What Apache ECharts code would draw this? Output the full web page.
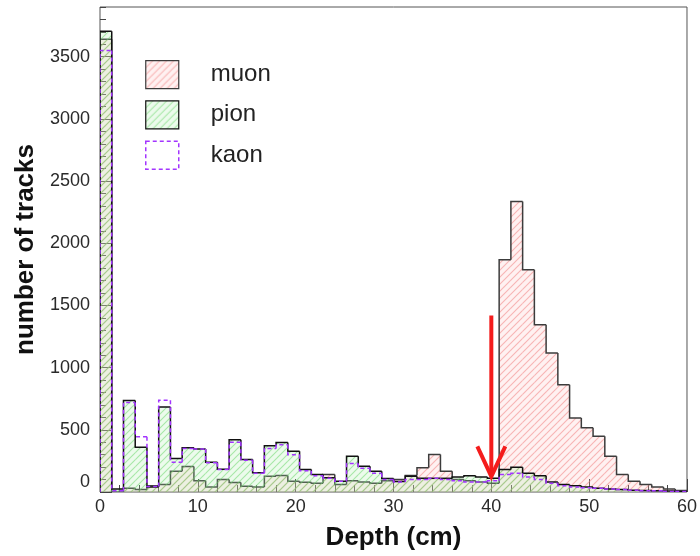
<!DOCTYPE html>
<html>
<head>
<meta charset="utf-8">
<script src="https://cdn.jsdelivr.net/npm/echarts@6/dist/echarts.min.js"></script>
<style>
  html, body { margin: 0; padding: 0; background: #ffffff; }
  #chart { width: 700px; height: 556px; }
</style>
</head>
<body>
<div id="chart"></div>
<script>
// Track depth histograms: 50 bins of 1.2 cm from 0 to 60 cm
const binWidth = 1.2;

const muon = [3640, 0, 30, 20, 50, 60, 167, 205, 90, 40,
              100, 76, 47, 40, 127, 132, 87, 79, 70, 140,
              60, 90, 80, 70, 90, 100, 133, 194, 301, 167,
              100, 90, 80, 70, 1867, 2336, 1787, 1345, 1118, 863,
              596, 516, 448, 288, 141, 87, 60, 40, 25, 12];

const pion = [3705, 25, 735, 360, 40, 684, 269, 355, 345, 240,
              183, 421, 261, 155, 372, 398, 328, 181, 141, 115,
              87, 288, 207, 167, 108, 84, 127, 110, 110, 110,
              120, 130, 120, 110, 180, 200, 150, 130, 80, 60,
              50, 40, 30, 25, 20, 15, 12, 10, 8, 5];

const kaon = [3550, 10, 720, 445, 45, 737, 240, 350, 345, 235,
              180, 400, 255, 150, 350, 380, 300, 170, 130, 110,
              87, 230, 190, 150, 100, 80, 100, 100, 110, 100,
              90, 80, 80, 90, 140, 150, 120, 100, 70, 50,
              40, 35, 30, 25, 20, 15, 10, 10, 5, 5];

// Depth cut marker (cm) and its vertical extent (tracks)
const cutDepth = 40;
const cutArrowTop = 1420;
const cutArrowTip = 125;

const FONT = 'Liberation Sans, Arial, Helvetica, sans-serif';

// Diagonal "/" hatch pattern over a faint tint
function hatch(tint, color, lineWidth, size) {
  const c = document.createElement('canvas');
  c.width = size; c.height = size;
  const g = c.getContext('2d');
  g.fillStyle = tint;
  g.fillRect(0, 0, size, size);
  g.strokeStyle = color;
  g.lineWidth = lineWidth;
  g.beginPath();
  g.moveTo(-1, size + 1); g.lineTo(size + 1, -1);
  g.moveTo(-2, 2); g.lineTo(2, -2);
  g.moveTo(size - 2, size + 2); g.lineTo(size + 2, size - 2);
  g.stroke();
  return { image: c, repeat: 'repeat' };
}

const muonFill = hatch('rgba(255,190,190,0.22)', 'rgba(240,130,130,0.55)', 1.1, 7);
const pionFill = hatch('rgba(170,235,170,0.22)', 'rgba(110,215,110,0.55)', 1.1, 7);

const muonLine = '#3c3c3c';
const pionLine = '#111111';
const kaonLine = '#a335ff';

// Step histogram: each bin is a filled column plus its outline segment
function histSeries(name, values, fill, stroke, dash, z) {
  const data = values.map((v, i) => [i * binWidth, (i + 1) * binWidth, v, i > 0 ? values[i - 1] : 0]);
  return {
    name: name,
    type: 'custom',
    z: z,
    clip: true,
    data: data,
    encode: { x: [0, 1], y: 2 },
    itemStyle: { color: fill || '#ffffff', borderColor: stroke },
    renderItem: function (params, api) {
      const x0 = api.value(0), x1 = api.value(1), v = api.value(2), prev = api.value(3);
      const pBase = api.coord([x0, 0]);
      const pPrev = api.coord([x0, prev]);
      const pTopL = api.coord([x0, v]);
      const pTopR = api.coord([x1, v]);
      const pEnd = api.coord([x1, 0]);
      const children = [];
      if (fill && v > 0) {
        children.push({
          type: 'rect',
          shape: { x: pTopL[0], y: pTopL[1], width: pTopR[0] - pTopL[0], height: pBase[1] - pTopL[1] },
          style: { fill: fill },
          silent: true
        });
      }
      const pts = [pPrev, pTopL, pTopR];
      if (params.dataIndex === values.length - 1) pts.push(pEnd);
      children.push({
        type: 'polyline',
        shape: { points: pts },
        style: { stroke: stroke, lineWidth: 1.5, lineDash: dash, fill: null },
        silent: true
      });
      return { type: 'group', children: children };
    }
  };
}

const chart = echarts.init(document.getElementById('chart'), null, { renderer: 'canvas' });

chart.setOption({
  animation: false,
  backgroundColor: '#ffffff',
  grid: {
    left: 100, right: 12, top: 7, bottom: 63,
    show: true, borderColor: '#555555', borderWidth: 1, backgroundColor: 'transparent'
  },
  legend: {
    orient: 'vertical',
    left: 140, top: 55,
    itemWidth: 33, itemHeight: 28, itemGap: 11,
    icon: 'rect',
    selectedMode: false,
    textStyle: { fontFamily: FONT, fontSize: 24, color: '#222222', padding: [0, 0, 0, 27] },
    data: [
      { name: 'muon', itemStyle: { color: muonFill, borderColor: muonLine, borderWidth: 1.2 } },
      { name: 'pion', itemStyle: { color: pionFill, borderColor: pionLine, borderWidth: 1.2 } },
      { name: 'kaon', itemStyle: { color: '#ffffff', borderColor: kaonLine, borderWidth: 1.5, borderType: [4, 3] } }
    ]
  },
  xAxis: {
    type: 'value', min: 0, max: 60, interval: 10,
    name: 'Depth (cm)', nameLocation: 'middle', nameGap: 33,
    nameTextStyle: { fontFamily: FONT, fontSize: 26, fontWeight: 'bold', color: '#111111' },
    axisLine: { show: false },
    axisTick: { show: true, inside: true, length: 13, lineStyle: { color: '#444444' } },
    minorTick: { show: true, splitNumber: 5, length: 7, lineStyle: { color: '#444444' } },
    splitLine: { show: false },
    axisLabel: { fontFamily: FONT, fontSize: 18, color: '#2a2a2a', margin: 6 }
  },
  yAxis: [
    {
      type: 'value', min: 0, max: 3900, interval: 500,
      name: 'number of tracks', nameLocation: 'middle', nameGap: 56, nameRotate: 90,
      nameTextStyle: { fontFamily: FONT, fontSize: 26, fontWeight: 'bold', color: '#111111' },
      axisLine: { show: false },
      axisTick: { show: true, inside: true, length: 12, lineStyle: { color: '#444444' } },
      splitLine: { show: false },
      axisLabel: {
        fontFamily: FONT, fontSize: 18, color: '#2a2a2a', margin: 10, showMaxLabel: false,
        formatter: v => (v === 0 ? '{zero|0}' : String(v)),
        rich: { zero: { fontFamily: FONT, fontSize: 18, color: '#2a2a2a', padding: [0, 0, 20, 0] } }
      }
    },
    {
      // minor ticks every 100 tracks
      type: 'value', min: 0, max: 3900, interval: 100, position: 'left',
      axisLine: { show: false },
      axisTick: { show: true, inside: true, length: 6, lineStyle: { color: '#444444' } },
      axisLabel: { show: false },
      splitLine: { show: false }
    }
  ],
  series: [
    histSeries('muon', muon, muonFill, muonLine, null, 2),
    histSeries('pion', pion, pionFill, pionLine, null, 3),
    histSeries('kaon', kaon, null, kaonLine, [4, 3], 4),
    {
      name: 'cut',
      type: 'custom',
      z: 6,
      clip: false,
      data: [[cutDepth, cutArrowTop, cutArrowTip]],
      encode: { x: 0, y: [1, 2] },
      renderItem: function (params, api) {
        const top = api.coord([api.value(0), api.value(1)]);
        const tip = api.coord([api.value(0), api.value(2)]);
        const red = '#f41c1c';
        return {
          type: 'group',
          children: [
            { type: 'line', shape: { x1: top[0], y1: top[1], x2: tip[0], y2: tip[1] - 2 },
              style: { stroke: red, lineWidth: 4 } },
            { type: 'polyline', shape: { points: [[tip[0] - 14, tip[1] - 30], [tip[0], tip[1]], [tip[0] + 14, tip[1] - 30]] },
              style: { stroke: red, lineWidth: 4, fill: null, lineJoin: 'miter' } }
          ]
        };
      }
    }
  ]
});
</script>
</body>
</html>
